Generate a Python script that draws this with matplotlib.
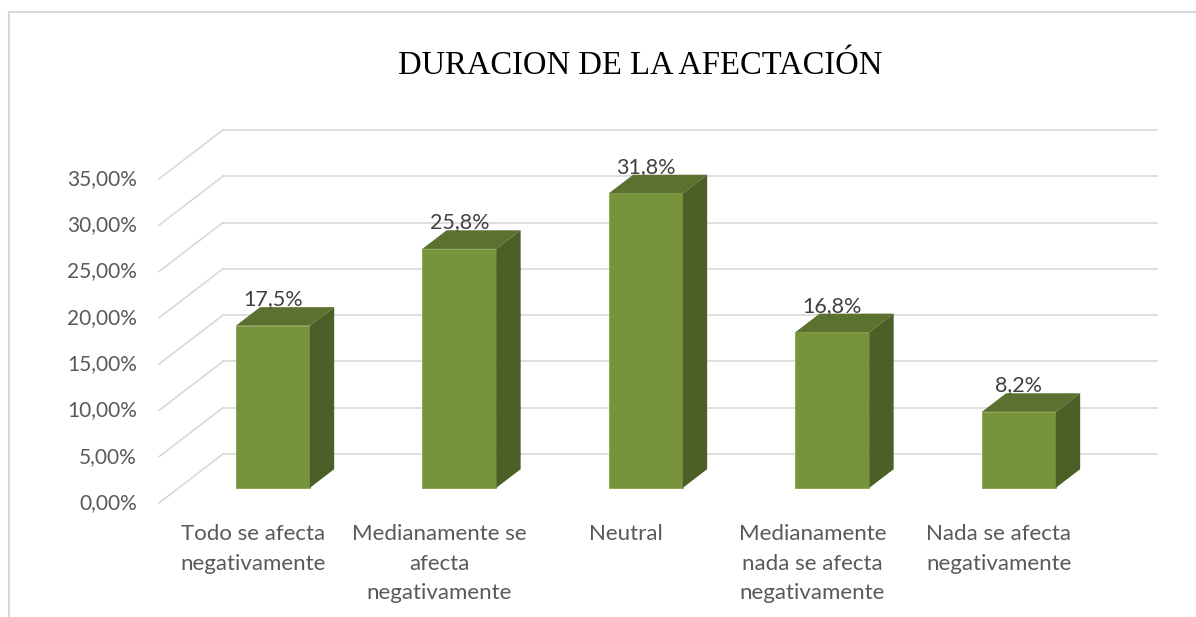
import matplotlib.pyplot as plt
from matplotlib.lines import Line2D

# datos del grafico
categorias = ["Todo se afecta\nnegativamente",
              "Medianamente se\nafecta\nnegativamente",
              "Neutral",
              "Medianamente\nnada se afecta\nnegativamente",
              "Nada se afecta\nnegativamente"]
porcentajes = [17.5, 25.8, 31.8, 16.8, 8.2]
etiquetas = ["17,5%", "25,8%", "31,8%", "16,8%", "8,2%"]
marcas_y = [0, 5, 10, 15, 20, 25, 30, 35]
titulo = "DURACION DE LA AFECTACIÓN"

# colores estilo Excel
verde = "#77933C"
verde_top = "#5A7130"
verde_lado = "#4B5F27"
gris_grid = "#D9D9D9"
gris_txt = "#595959"

# perspectiva (profundidad en unidades de datos)
DX = 0.343      # desplazamiento horizontal de la pared del fondo
DY = 5.29       # desplazamiento vertical de la pared del fondo
f0, f1 = 0.31, 0.69   # profundidad frontal y trasera de las barras
ancho = 0.397
x_izq = -0.504
x_der = 4.847


def main():
    fig = plt.figure(figsize=(11.96, 6.17), dpi=100)
    ax = fig.add_axes([0, 0, 1, 1])
    ax.set_xlim(-253 / 186.5, (1196 - 253) / 186.5)
    ax.set_ylim(-(617 - 503) / 9.26, 503 / 9.26)
    ax.axis("off")

    # lineas de cuadricula: diagonales y pared del fondo
    for v in marcas_y:
        ax.plot([x_izq, x_izq + DX], [v, v + DY], color=gris_grid, lw=1.2, zorder=1)
        ax.plot([x_izq + DX, x_der], [v + DY, v + DY], color=gris_grid, lw=1.2, zorder=1)
        ax.text(x_izq - 0.118, v, ("%.2f%%" % v).replace(".", ","), ha="right",
                va="center", fontsize=15, color=gris_txt, family="Lato")

    ddx = (f1 - f0) * DX
    ddy = (f1 - f0) * DY
    base = f0 * DY
    for i, v in enumerate(porcentajes):
        xc = i + f0 * DX
        xl, xr = xc - ancho / 2, xc + ancho / 2
        ax.bar(xc, v, width=ancho, bottom=base, color=verde,
               edgecolor="#86A34A", linewidth=0.6, zorder=3)
        top = v + base
        ax.fill([xl, xr, xr + ddx, xl + ddx], [top, top, top + ddy, top + ddy],
                color=verde_top, zorder=3, lw=0)
        ax.fill([xr, xr + ddx, xr + ddx, xr], [base, base + ddy, top + ddy, top],
                color=verde_lado, zorder=3, lw=0)
        ax.text(xc, top + ddy + 0.2, etiquetas[i], ha="center", va="baseline",
                fontsize=15.5, color="#404040", family="Lato", zorder=4)
        ax.text(i, -2.3, categorias[i], ha="center", va="top", fontsize=16,
                color=gris_txt, family="Lato", linespacing=1.58)

    fig.text(0.535, 0.893, titulo, ha="center", va="center", fontsize=23.5,
             family="Liberation Serif", color="black")

    # borde del area del grafico
    fig.add_artist(Line2D([9 / 1196, 9 / 1196], [0, 1 - 12 / 617],
                          color=gris_grid, lw=1.5))
    fig.add_artist(Line2D([9 / 1196, 1], [1 - 12 / 617, 1 - 12 / 617],
                          color=gris_grid, lw=1.5))

    fig.savefig("out.png", dpi=100)


if __name__ == "__main__":
    main()
